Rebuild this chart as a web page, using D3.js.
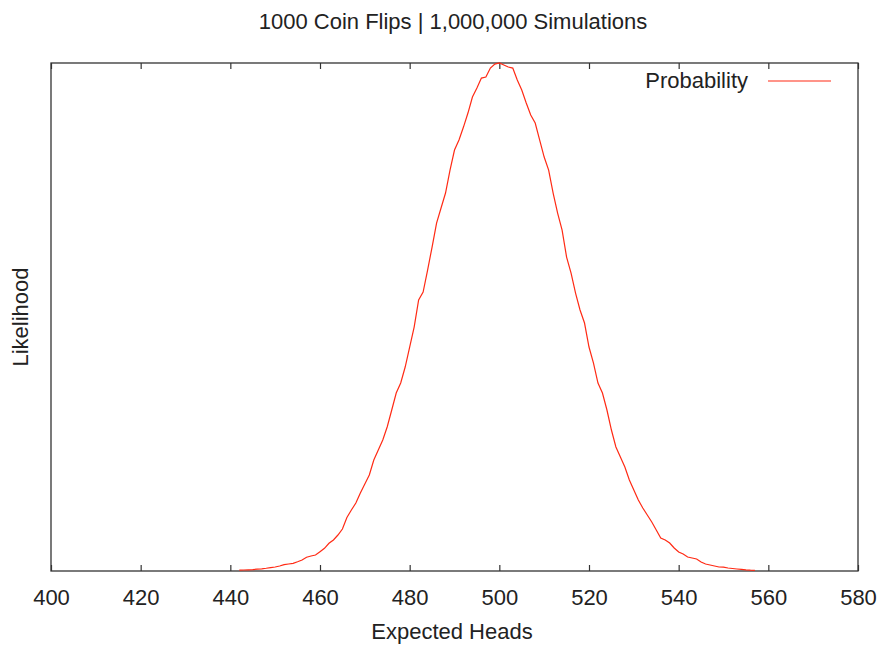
<!DOCTYPE html>
<html>
<head>
<meta charset="utf-8">
<script src="https://cdn.jsdelivr.net/npm/d3@7"></script>
<style>
  body { margin: 0; background: #fff; }
  text { font-family: "Liberation Sans", Arial, sans-serif; fill: #222; }
</style>
</head>
<body>
<div id="chart"></div>
<script>
// number of heads in 1000 flips
const heads = d3.range(442, 558);
// how many of the 1,000,000 simulations landed on each count
const counts = [
    40,    50,    60,    70,    90,   110,   135,   165,   198,   248,   // 442-451
   312,   347,   382,   461,   546,   680,   744,   794,   957,  1126,   // 452-461
  1374,  1538,  1786,  2083,  2654,  3026,  3373,  3869,  4315,  4762,   // 462-471
  5506,  6002,  6498,  7157,  7986,  8829,  9325, 10118, 11110, 12102,   // 472-481
 13442, 13838, 14930, 16070, 17261, 18005, 18749, 19890, 20882, 21378,   // 482-491
 22022, 22717, 23510, 23957, 24453, 24502, 24949, 25147, 25200, 25100,   // 492-501
 25000, 24950, 24354, 23858, 23213, 22618, 22221, 21378, 20534, 19890,   // 502-511
 18749, 17757, 16914, 15574, 14781, 13789, 12946, 12301, 11110, 10317,   // 512-521
  9325,  8829,  7986,  6994,  6150,  5654,  5158,  4514,  4018,  3522,   // 522-531
  3125,  2778,  2430,  2034,  1637,  1538,  1389,  1141,   942,   843,   // 532-541
   694,   645,   595,   446,   347,   298,   248,   198,   190,   149,   // 542-551
   124,   100,    80,    60,    45,    35                                // 552-557
];
const xTicks = d3.range(400, 581, 20);
const seriesName = "Probability";

const W = 880, H = 646;
const margin = { top: 63, right: 22, bottom: 75, left: 51 };
const width = W - margin.left - margin.right,
    height = H - margin.top - margin.bottom;
const red = "#ff2a14";

const svg = d3.select("#chart").append("svg")
    .attr("width", W)
    .attr("height", H);

svg.append("text")
    .attr("x", 453)
    .attr("y", 29)
    .attr("text-anchor", "middle")
    .attr("font-size", 22)
    .text("1000 Coin Flips | 1,000,000 Simulations");

const g = svg.append("g")
    .attr("transform", `translate(${margin.left},${margin.top})`);

let xScale = d3.scaleLinear()
    .domain([400, 580])
    .range([0, width]);

let yScale = d3.scaleLinear()
    .domain([0, d3.max(counts)])
    .range([height, 0]);

// bottom ticks point inward, top ticks mirror them
let axisX = d3.axisBottom(xScale)
    .tickValues(xTicks)
    .tickSizeInner(-6)
    .tickSizeOuter(0)
    .tickPadding(18);
let axisTop = d3.axisTop(xScale)
    .tickValues(xTicks)
    .tickSizeInner(-6)
    .tickSizeOuter(0)
    .tickFormat("");

const ax = g.append("g")
    .attr("class", "axis_x")
    .attr("transform", `translate(0,${height})`)
    .call(axisX);
const at = g.append("g")
    .attr("class", "axis_top")
    .call(axisTop);

[ax, at].forEach(a => {
    a.select(".domain").remove();
    a.selectAll(".tick line").attr("stroke", "#333").attr("stroke-width", 1.2);
});
ax.selectAll(".tick text")
    .attr("font-size", 22)
    .attr("fill", "#222")
    .attr("font-family", "Liberation Sans, Arial, sans-serif");

// curve
const data = heads.map((h, i) => ({ h: h, c: counts[i] }));
const line = d3.line()
    .x(d => xScale(d.h))
    .y(d => yScale(d.c));

// frame
g.append("rect")
    .attr("width", width)
    .attr("height", height)
    .attr("fill", "none")
    .attr("stroke", "#333")
    .attr("stroke-width", 1.3);

g.append("path")
    .datum(data)
    .attr("fill", "none")
    .attr("stroke", red)
    .attr("stroke-width", 1.2)
    .attr("d", line);

// legend
svg.append("text")
    .attr("x", 748)
    .attr("y", 88)
    .attr("text-anchor", "end")
    .attr("font-size", 22)
    .text(seriesName);
svg.append("line")
    .attr("x1", 768)
    .attr("x2", 831)
    .attr("y1", 81)
    .attr("y2", 81)
    .attr("stroke", red)
    .attr("stroke-width", 1.2);

// axis labels
svg.append("text")
    .attr("x", 452)
    .attr("y", 639)
    .attr("text-anchor", "middle")
    .attr("font-size", 22)
    .text("Expected Heads");

svg.append("text")
    .attr("transform", `translate(28,${margin.top + height / 2}) rotate(-90)`)
    .attr("text-anchor", "middle")
    .attr("font-size", 22)
    .text("Likelihood");
</script>
</body>
</html>
